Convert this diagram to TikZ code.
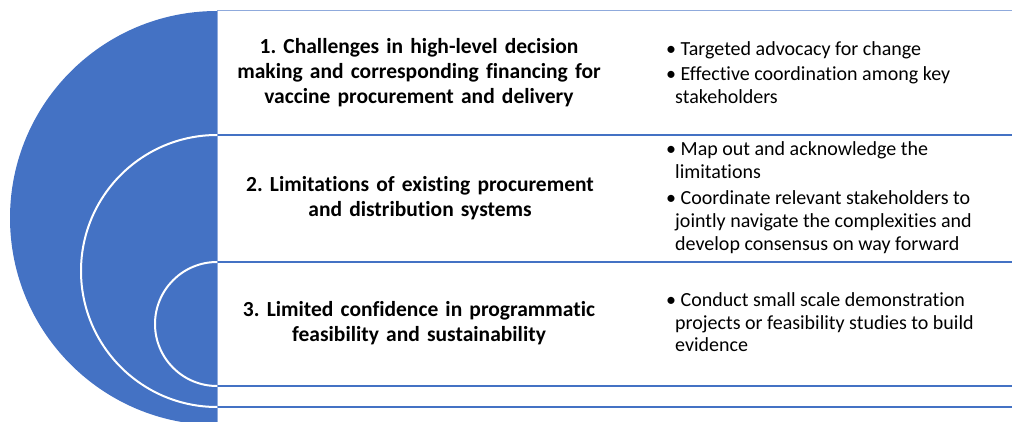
\documentclass[tikz,border=0pt]{standalone}
\usepackage{fontspec}
\setmainfont{Carlito}[Ligatures=NoCommon]
\frenchspacing
\definecolor{accent}{HTML}{4472C4}
\definecolor{rim}{HTML}{8FAADC}

\begin{document}
\begin{tikzpicture}[x=1pt,y=-1pt,
  heading/.style={font=\bfseries\fontsize{21.5}{25}\selectfont, align=center,
    text width=400pt, inner sep=0pt, anchor=center},
  points/.style={font=\fontsize{20}{22.5}\selectfont, align=left,
    inner sep=0pt, anchor=west},
  divider/.style={accent, line width=2.2pt},
  rimline/.style={rim, line width=1pt},
  ring/.style={white, line width=2pt}]
\useasboundingbox (0,0) rectangle (1012,422);

% left half disc
\begin{scope}
  \clip (0,0) rectangle (217,422);
  \fill[accent] (217,218) circle[radius=207pt];
\end{scope}

% inner white rings
\draw[ring] (217,135) arc[start angle=90, end angle=270, radius=136pt];
\draw[ring] (217,262) arc[start angle=90, end angle=270, radius=62pt];

% row frames
\draw[rimline] (217,11) -- (1012,11);
\draw[rimline] (217,11) -- (217,422);
\foreach \yy in {135,262,386,407}
  \draw[divider] (217.5,\yy) -- (1012,\yy);

% headings
\node[heading] (t1) at (419,73) {1. Challenges in high-level decision\\making and corresponding financing for\\vaccine procurement and delivery};
\node[heading] (t2) at (420,198.5) {2. Limitations of existing procurement\\and distribution systems};
\node[heading] (t3) at (419,323.5) {3. Limited confidence in programmatic\\feasibility and sustainability};

% action points
\node[points] (b1) at (666,72.5) {\textbullet\ Targeted advocacy for change\\[2.5pt]
  \textbullet\ Effective coordination among key\\\hspace*{9pt}stakeholders};
\node[points, font=\fontsize{20}{23}\selectfont] (b2) at (666,198) {\textbullet\ Map out and acknowledge the\\\hspace*{9pt}limitations\\[3pt]
  \textbullet\ Coordinate relevant stakeholders to\\\hspace*{9pt}jointly navigate the complexities and\\\hspace*{9pt}develop consensus on way forward};
\node[points] (b3) at (666,322.5) {\textbullet\ Conduct small scale demonstration\\\hspace*{9pt}projects or feasibility studies to build\\\hspace*{9pt}evidence};
\end{tikzpicture}
\end{document}
